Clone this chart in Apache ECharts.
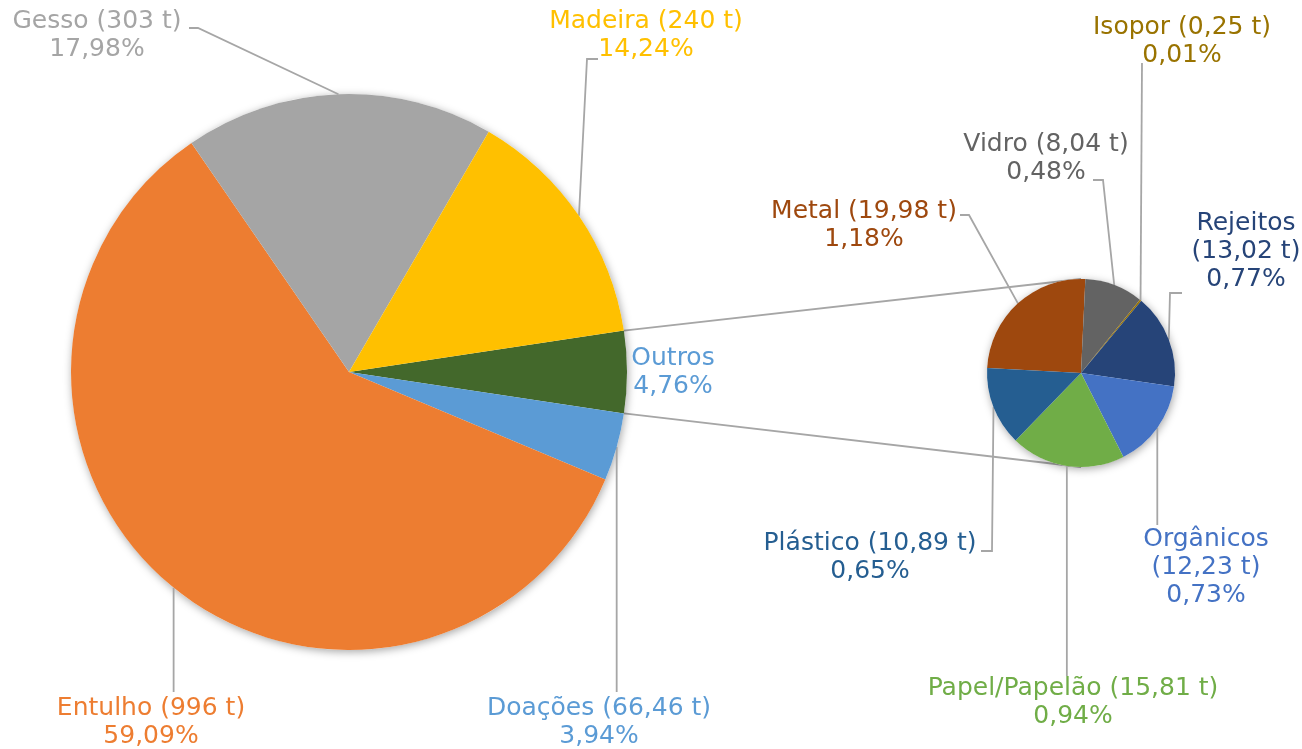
<!DOCTYPE html>
<html>
<head>
<meta charset="utf-8">
<script src="https://cdn.jsdelivr.net/npm/echarts@6/dist/echarts.min.js"></script>
<style>html,body{margin:0;padding:0;background:#fff}#c{width:1302px;height:749px}</style>
</head>
<body>
<div id="c"></div>
<script>
// ---- data ----
const subNames = ['Metal', 'Vidro', 'Isopor', 'Rejeitos', 'Orgânicos', 'Papel/Papelão', 'Plástico'];
const subValues = [19.98, 8.04, 0.25, 13.02, 12.23, 15.81, 10.89];
const subTons = ['19,98', '8,04', '0,25', '13,02', '12,23', '15,81', '10,89'];
const subPercents = ['1,18%', '0,48%', '0,01%', '0,77%', '0,73%', '0,94%', '0,65%'];

const mainNames = ['Outros', 'Doações', 'Entulho', 'Gesso', 'Madeira'];
const mainValues = [subValues.reduce((a, b) => a + b, 0), 66.46, 996, 303, 240];
const mainTons = [null, '66,46', '996', '303', '240'];
const mainPercents = ['4,76%', '3,94%', '59,09%', '17,98%', '14,24%'];

// ---- styling / layout ----
const mainColors = ['#43682B', '#5B9BD5', '#ED7D31', '#A5A5A5', '#FFC000'];
const mainLabelColors = ['#5B9BD5', '#5B9BD5', '#ED7D31', '#A5A5A5', '#FFC000'];
const subColors = ['#9E480E', '#636363', '#997300', '#264478', '#4472C4', '#70AD47', '#255E91'];
const subLabelColors = ['#9E480E', '#636363', '#997300', '#264478', '#4472C4', '#70AD47', '#255E91'];

const C1 = [349, 372], R1 = 278;
const C2 = [1081, 373], R2 = 94;
const sum = a => a.reduce((x, y) => x + y, 0);
const START1 = mainValues[0] / sum(mainValues) * 180;
const START2 = 177;

function midPoints(values, start, c, r) {
  const tot = sum(values);
  let a = start;
  return values.map(v => {
    const span = v / tot * 360;
    const m = (a - span / 2) * Math.PI / 180;
    a -= span;
    return [c[0] + r * Math.cos(m), c[1] - r * Math.sin(m)];
  });
}
const mainMid = midPoints(mainValues, START1, C1, R1);
const subMid = midPoints(subValues, START2, C2, R2);

const mainLayout = [
  { x: 673, y: 372, line: null },
  { x: 599, y: 722, line: m => [m, [m[0], 692]] },
  { x: 151, y: 722, line: m => [m, [m[0], 692]] },
  { x: 97, y: 35, line: m => [m, [198, 28], [189, 28]] },
  { x: 646, y: 35, line: m => [m, [587, 59], [598, 59]] }
];
const subLayout = [
  { x: 864, y: 225, line: m => [m, [969, 215], [960, 215]] },
  { x: 1046, y: 158, line: m => [m, [1103, 180], [1093, 180]] },
  { x: 1182, y: 41, line: m => [m, [1142, 63]] },
  { x: 1246, y: 251, line: m => [m, [1170, 293], [1182, 293]] },
  { x: 1206, y: 567, line: m => [m, [m[0], 525]] },
  { x: 1073, y: 702, line: m => [m, [m[0], 676]] },
  { x: 870, y: 557, line: m => [m, [992, 551], [981, 551]] }
];

const FONT = 'DejaVu Sans';
const FS = 25;
const LH = 28;
const LINE_COLOR = '#A6A6A6';

const mainData = mainNames.map((n, i) => ({
  name: n, value: mainValues[i],
  itemStyle: { color: mainColors[i] },
  label: { color: mainLabelColors[i] },
  labelLine: { show: !!mainLayout[i].line }
}));
const subData = subNames.map((n, i) => ({
  name: n, value: subValues[i],
  itemStyle: { color: subColors[i] },
  label: { color: subLabelColors[i] }
}));

function mainFmt(p) {
  const i = p.dataIndex;
  if (mainTons[i] == null) return mainNames[i] + '\n' + mainPercents[i];
  return mainNames[i] + ' (' + mainTons[i] + ' t)\n' + mainPercents[i];
}
function subFmt(p) {
  const i = p.dataIndex;
  if (subNames[i] === 'Rejeitos' || subNames[i] === 'Orgânicos')
    return subNames[i] + '\n(' + subTons[i] + ' t)\n' + subPercents[i];
  return subNames[i] + ' (' + subTons[i] + ' t)\n' + subPercents[i];
}

const topA = START1 * Math.PI / 180;
const conn = [
  [[C1[0] + R1 * Math.cos(topA), C1[1] - R1 * Math.sin(topA)], [C2[0], C2[1] - R2]],
  [[C1[0] + R1 * Math.cos(-topA), C1[1] - R1 * Math.sin(-topA)], [C2[0], C2[1] + R2]]
];

const shadowStyle = { shadowBlur: 8, shadowColor: 'rgba(0,0,0,0.35)', shadowOffsetX: 1, shadowOffsetY: 2 };

const option = {
  backgroundColor: '#ffffff',
  animation: false,
  graphic: conn.map(c => ({
    type: 'line', z: 0, silent: true,
    shape: { x1: c[0][0], y1: c[0][1], x2: c[1][0], y2: c[1][1] },
    style: { stroke: LINE_COLOR, lineWidth: 1.8 }
  })),
  series: [
    {
      type: 'pie', z: 1, silent: true, center: C1, radius: R1,
      data: [{ value: 1, itemStyle: { color: '#ffffff', ...shadowStyle } }],
      label: { show: false }, labelLine: { show: false }
    },
    {
      type: 'pie', z: 1, silent: true, center: C2, radius: R2,
      data: [{ value: 1, itemStyle: { color: '#ffffff', ...shadowStyle } }],
      label: { show: false }, labelLine: { show: false }
    },
    {
      type: 'pie', z: 3, center: C1, radius: R1, startAngle: START1, clockwise: true,
      avoidLabelOverlap: false,
      itemStyle: { borderWidth: 0 },
      data: mainData,
      label: { show: true, formatter: mainFmt, fontFamily: FONT, fontSize: FS, lineHeight: LH },
      labelLine: { show: true, lineStyle: { color: LINE_COLOR, width: 1.8 } },
      labelLayout: p => {
        const L = mainLayout[p.dataIndex];
        const o = { x: L.x, y: L.y, align: 'center', verticalAlign: 'middle' };
        if (L.line) o.labelLinePoints = L.line(mainMid[p.dataIndex]);
        return o;
      }
    },
    {
      type: 'pie', z: 3, center: C2, radius: R2, startAngle: START2, clockwise: true,
      avoidLabelOverlap: false,
      itemStyle: { borderWidth: 0 },
      data: subData,
      label: { show: true, formatter: subFmt, fontFamily: FONT, fontSize: FS, lineHeight: LH },
      labelLine: { show: true, lineStyle: { color: LINE_COLOR, width: 1.8 } },
      labelLayout: p => {
        const L = subLayout[p.dataIndex];
        return { x: L.x, y: L.y, align: 'center', verticalAlign: 'middle', labelLinePoints: L.line(subMid[p.dataIndex]) };
      }
    }
  ]
};
const chart = echarts.init(document.getElementById('c'), null, { renderer: 'canvas' });
chart.setOption(option);
</script>
</body>
</html>
